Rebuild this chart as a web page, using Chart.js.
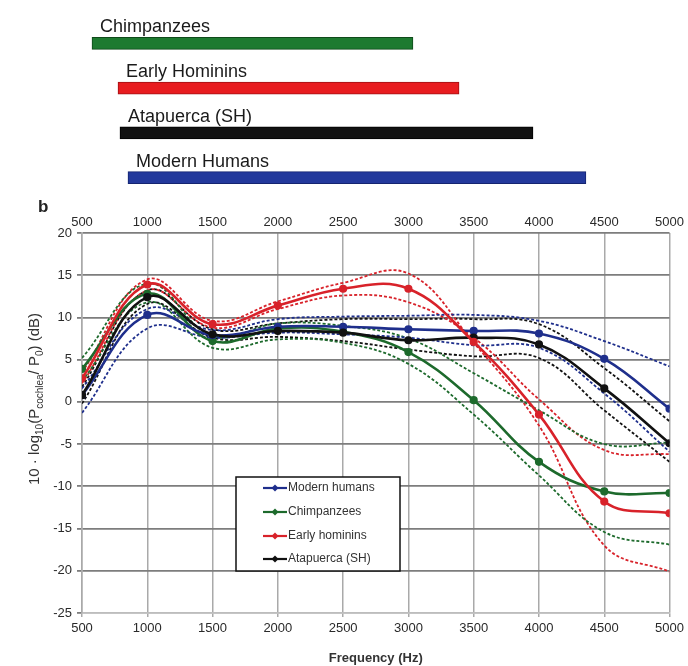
<!DOCTYPE html>
<html>
<head>
<meta charset="utf-8">
<script src="https://cdn.jsdelivr.net/npm/chart.js@4.4.1/dist/chart.umd.min.js"></script>
<style>
  html,body{margin:0;padding:0;background:#fff;}
  #wrap{position:relative;width:688px;height:666px;overflow:hidden;background:#fff;}
  #top{position:absolute;left:0;top:0;}
  #main{position:absolute;left:0;top:200px;}
  #panelB{position:absolute;left:38px;top:197px;font:bold 17px "Liberation Sans",Arial,sans-serif;color:#222;}
</style>
</head>
<body>
<div id="wrap">
  <canvas id="top" width="688" height="200"></canvas>
  <canvas id="main" width="688" height="466"></canvas>
  <div id="panelB">b</div>
</div>
<script>
// ---- Panel a: frequency ranges (Hz) ----
const rangeGroups = ["Chimpanzees", "Early Hominins", "Atapuerca (SH)", "Modern Humans"];
const rangeStart = [576, 774, 789, 850];
const rangeEnd = [3020, 3371, 3934, 4337];

// ---- Panel b: frequencies (Hz) ----
const freqs = [500, 1000, 1500, 2000, 2500, 3000, 3500, 4000, 4500, 5000];

const modernMean  = [0.8, 10.3, 7.9, 8.9, 8.9, 8.6, 8.4, 8.1, 5.1, -0.8];
const modernUpper = [1.6, 11.0, 8.5, 9.8, 10.1, 10.2, 10.3, 9.6, 7.2, 4.2];
const modernLower = [-1.3, 8.7, 7.6, 8.2, 8.0, 7.6, 6.7, 6.4, 1.0, -5.9];

const chimpMean  = [3.9, 12.8, 7.2, 8.7, 8.3, 5.9, 0.2, -7.1, -10.6, -10.8];
const chimpUpper = [5.2, 14.0, 7.8, 9.3, 9.0, 7.5, 3.4, -1.0, -5.0, -4.8];
const chimpLower = [2.5, 11.8, 6.4, 7.4, 7.0, 4.5, -1.5, -8.7, -15.4, -16.9];

const earlyMean  = [2.8, 13.9, 9.2, 11.4, 13.4, 13.4, 7.1, -1.5, -11.8, -13.2];
const earlyUpper = [3.5, 14.5, 9.6, 11.9, 14.1, 15.2, 7.0, -2.8, -17.0, -20.1];
const earlyLower = [2.2, 13.2, 8.8, 11.0, 12.6, 11.8, 7.6, 0.3, -5.7, -6.2];

const atapMean  = [0.8, 12.4, 8.0, 8.4, 8.2, 7.3, 7.6, 6.8, 1.6, -4.9];
const atapUpper = [1.8, 13.2, 8.6, 9.3, 9.8, 9.8, 9.8, 9.2, 4.0, -2.3];
const atapLower = [-0.2, 11.6, 7.6, 7.7, 7.2, 6.2, 5.4, 5.2, -1.0, -7.1];

const xTickValues = [500, 1000, 1500, 2000, 2500, 3000, 3500, 4000, 4500, 5000];
const yTickValues = [20, 15, 10, 5, 0, -5, -10, -15, -20, -25];

const FONT = '"Liberation Sans", Arial, sans-serif';
const C_BLUE = '#1f2f8c', C_GREEN = '#1d6a2c', C_RED = '#d8222a', C_BLACK = '#111111';

// ---------- Top chart ----------
const topLabelPlugin = {
  id: 'topLabels',
  afterDatasetsDraw(chart) {
    const ctx = chart.ctx;
    const meta = chart.getDatasetMeta(0);
    ctx.save();
    ctx.font = '18px ' + FONT;
    ctx.fillStyle = '#1a1a1a';
    ctx.textBaseline = 'middle';
    ctx.textAlign = 'left';
    meta.data.forEach((el, i) => {
      const left = Math.min(el.x, el.base);
      ctx.fillText(chart.data.labels[i], left + 8, el.y - 16);
    });
    ctx.restore();
  }
};

new Chart(document.getElementById('top'), {
  type: 'bar',
  data: {
    labels: rangeGroups,
    datasets: [{
      data: rangeStart.map((s, i) => [s, rangeEnd[i]]),
      backgroundColor: ['#1d7a30', '#e81c1f', '#111111', '#23399c'],
      borderColor: ['#0f4a1a', '#a01015', '#000000', '#142470'],
      borderWidth: 1,
      borderSkipped: false,
      barThickness: 12
    }]
  },
  options: {
    indexAxis: 'y',
    responsive: false,
    animation: false,
    layout: { padding: { left: 82, right: 15, top: 21, bottom: 0 } },
    plugins: { legend: { display: false }, tooltip: { enabled: false } },
    scales: {
      x: { type: 'linear', min: 500, max: 5000, display: false },
      y: { display: false }
    }
  },
  plugins: [topLabelPlugin]
});

// ---------- Main chart ----------
function pts(vals) { return freqs.map((f, i) => ({ x: f, y: vals[i] })); }

function solid(label, vals, color, order) {
  return {
    label: label, data: pts(vals), borderColor: color, backgroundColor: color,
    borderWidth: 2.6, pointRadius: 2.8, pointBackgroundColor: color, pointBorderColor: color,
    tension: 0.4, order: order, isMain: true
  };
}
function dashed(vals, color, order) {
  return {
    label: '', data: pts(vals), borderColor: color, backgroundColor: color,
    borderWidth: 1.8, borderDash: [3, 2], pointRadius: 0, tension: 0.4, order: order, isMain: false
  };
}

const datasets = [
  solid('Modern humans', modernMean, C_BLUE, 2),
  solid('Chimpanzees', chimpMean, C_GREEN, 3),
  solid('Early hominins', earlyMean, C_RED, 0),
  solid('Atapuerca (SH)', atapMean, C_BLACK, 1),
  dashed(modernUpper, C_BLUE, 10), dashed(modernLower, C_BLUE, 10),
  dashed(chimpUpper, C_GREEN, 11), dashed(chimpLower, C_GREEN, 11),
  dashed(earlyUpper, C_RED, 12), dashed(earlyLower, C_RED, 12),
  dashed(atapUpper, C_BLACK, 13), dashed(atapLower, C_BLACK, 13)
];

const yTitlePlugin = {
  id: 'yTitle',
  afterDraw(chart) {
    const ctx = chart.ctx;
    const parts = [
      ['10 \u00B7 log', false], ['10', true], ['(P', false], ['cochlea', true],
      ['/ P', false], ['0', true], [') (dB)', false]
    ];
    const big = '15px ' + FONT, small = '10px ' + FONT;
    ctx.save();
    let total = 0;
    parts.forEach(p => { ctx.font = p[1] ? small : big; total += ctx.measureText(p[0]).width; });
    ctx.translate(35, 199);
    ctx.rotate(-Math.PI / 2);
    ctx.fillStyle = '#333';
    ctx.textBaseline = 'middle';
    ctx.textAlign = 'left';
    let x = -total / 2;
    parts.forEach(p => {
      ctx.font = p[1] ? small : big;
      ctx.fillText(p[0], x, p[1] ? 5 : 0);
      x += ctx.measureText(p[0]).width;
    });
    ctx.restore();
  }
};

const legendPlugin = {
  id: 'boxLegend',
  afterDraw(chart) {
    const ctx = chart.ctx;
    const L = 236, T = 277, R = 400, B = 371;
    ctx.save();
    ctx.fillStyle = '#fff';
    ctx.fillRect(L, T, R - L, B - T);
    ctx.strokeStyle = '#111';
    ctx.lineWidth = 1.5;
    ctx.strokeRect(L, T, R - L, B - T);
    const mains = chart.data.datasets.filter(d => d.isMain);
    const rowsY = [288, 312, 336, 359];
    ctx.font = '12px ' + FONT;
    ctx.textBaseline = 'middle';
    mains.forEach((d, i) => {
      const y = rowsY[i];
      ctx.strokeStyle = d.borderColor;
      ctx.lineWidth = 2.2;
      ctx.beginPath(); ctx.moveTo(263, y); ctx.lineTo(287, y); ctx.stroke();
      ctx.fillStyle = d.borderColor;
      ctx.beginPath();
      ctx.moveTo(275, y - 3.5); ctx.lineTo(278.5, y); ctx.lineTo(275, y + 3.5); ctx.lineTo(271.5, y);
      ctx.closePath(); ctx.fill();
      ctx.fillStyle = '#333';
      ctx.fillText(d.label, 288, y);
    });
    ctx.restore();
  }
};

const plainTick = v => String(v);

new Chart(document.getElementById('main'), {
  type: 'line',
  data: { datasets: datasets },
  options: {
    responsive: false,
    animation: false,
    layout: { padding: { left: 0, right: 15, top: 0, bottom: 0 } },
    plugins: { legend: { display: false }, tooltip: { enabled: false } },
    scales: {
      x: {
        type: 'linear', position: 'bottom', min: 500, max: 5000,
        afterBuildTicks: s => { s.ticks = xTickValues.map(v => ({ value: v })); },
        afterFit: s => { s.height = 53; },
        grid: { color: '#a9a9a9', lineWidth: 1.5, drawTicks: true, tickLength: 4, tickColor: '#a9a9a9' },
        border: { display: true, color: '#bdbdbd', width: 1.5 },
        ticks: { font: { size: 13, family: FONT }, color: '#2a2a2a', padding: 4, maxRotation: 0, autoSkip: false, callback: plainTick },
        title: { display: true, text: 'Frequency (Hz)', font: { size: 13, weight: 'bold', family: FONT }, color: '#333', padding: { top: 2, bottom: 0 } }
      },
      x2: {
        type: 'linear', position: 'top', min: 500, max: 5000,
        afterBuildTicks: s => { s.ticks = xTickValues.map(v => ({ value: v })); },
        afterFit: s => { s.height = 33; },
        grid: { display: false, drawTicks: false },
        border: { display: false },
        ticks: { font: { size: 13, family: FONT }, color: '#2a2a2a', padding: 3, maxRotation: 0, autoSkip: false, callback: plainTick }
      },
      y: {
        type: 'linear', min: -25, max: 20,
        afterBuildTicks: s => { s.ticks = yTickValues.map(v => ({ value: v })); },
        afterFit: s => { s.width = 82; },
        grid: {
          color: ctx => (ctx.tick && ctx.tick.value === -25) ? '#bdbdbd' : '#7d7d7d',
          lineWidth: 1.8, drawTicks: true, tickLength: 5,
          tickColor: '#7d7d7d'
        },
        border: { display: true, color: '#a9a9a9', width: 1.5 },
        ticks: { font: { size: 13, family: FONT }, color: '#2a2a2a', padding: 5, callback: plainTick }
      }
    }
  },
  plugins: [yTitlePlugin, legendPlugin]
});
</script>
</body>
</html>
